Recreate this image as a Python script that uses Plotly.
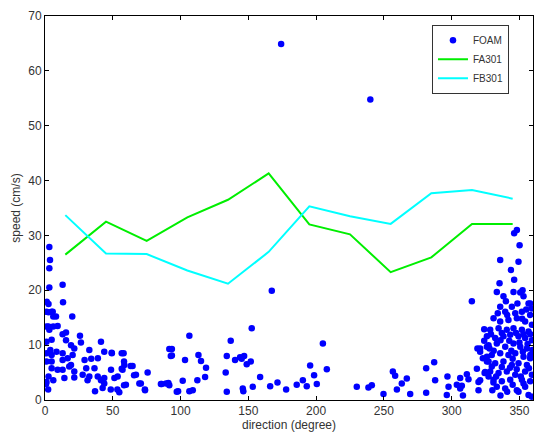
import plotly.graph_objects as go

# FA301 / FB301 line series (direction bins in degrees)
line_dir = [15, 45, 75, 105, 135, 165, 195, 225, 255, 285, 315, 345]
fa301 = [26.5, 32.5, 29.0, 33.3, 36.5, 41.3, 32.0, 30.2, 23.3, 26.0, 32.1, 32.1]
fb301 = [33.7, 26.7, 26.6, 23.6, 21.2, 27.0, 35.3, 33.5, 32.1, 37.7, 38.3, 36.7]

# FOAM scatter points: (direction, speed)
foam_pts = [
    (3.2, 27.9), (3.7, 25.5), (3.2, 24.0), (3.2, 20.5), (13, 21.0), (1.3, 17.9), (2.6, 17.5),
    (13.3, 17.8), (1.1, 16.1), (2.6, 16.0), (4.9, 16.1), (6.1, 15.2), (20.1, 15.2), (1.3, 13.4),
    (2.6, 13.4), (6.1, 13.4), (3.2, 12.8), (9.3, 13.5), (15.5, 12.3), (13.0, 12.0), (25.8, 11.7),
    (26.5, 10.5), (41.3, 10.6), (1.1, 10.6), (4.9, 11.0), (15.5, 10.9), (19.2, 10.0), (21.6, 9.4),
    (3.9, 9.1), (1.1, 8.5), (4.9, 8.2), (8.5, 8.8), (13.0, 8.5), (16.7, 7.6), (20.4, 8.2),
    (13.0, 7.3), (32.7, 9.1), (43.7, 8.8), (49.3, 8.5), (58.0, 8.5), (29.2, 7.3), (34.1, 7.5),
    (39.0, 7.6), (1.1, 7.0), (4.9, 7.0), (19.2, 6.4), (13.0, 5.5), (4.9, 5.8), (9.3, 5.5),
    (30.4, 5.8), (36.5, 5.8), (58.5, 6.4), (64.6, 6.2), (57.2, 5.5), (17.9, 6.1), (21.6, 5.2),
    (27.8, 4.6), (32.7, 4.3), (38.9, 4.3), (43.7, 4.0), (48.7, 5.5), (2.6, 4.3), (6.1, 3.6),
    (14.3, 4.0), (21.6, 4.1), (31.4, 3.6), (41.3, 3.6), (43.7, 3.0), (51.2, 4.0), (53.6, 4.3),
    (67.1, 4.6), (75.7, 5.0), (70.7, 3.0), (1.1, 3.3), (0.8, 2.9), (36.9, 1.6), (42.5, 2.2),
    (48.5, 1.9), (53.4, 1.9), (54.8, 1.4), (59.7, 2.8), (73.7, 1.9), (2.3, 1.9), (85.5, 2.9),
    (89.3, 3.0), (93.6, 9.3), (93.6, 8.1), (98.2, 1.6), (5.7, 16.1), (8.1, 15.2),
    (49.2, 8.6), (56.6, 8.5), (58.3, 7.0), (56.6, 5.7), (63.2, 6.2), (65.7, 4.5), (69.6, 3.0),
    (73.8, 1.8), (58.3, 2.7), (91.0, 3.1), (91.7, 2.7),
    (106.5, 11.7), (137.0, 10.8), (205.0, 10.3), (152.5, 13.1), (167.3, 19.9), (91.7, 9.3),
    (92.8, 8.0), (103.3, 7.3), (113.2, 8.2), (115.1, 7.1), (118.8, 5.9), (118.1, 4.2),
    (134.1, 8.0), (145.1, 7.5), (146.9, 8.0), (143.9, 7.8), (148.8, 6.5), (151.8, 7.0),
    (133.3, 5.0), (158.7, 4.2), (153.3, 2.4), (134.1, 1.5), (145.9, 2.1), (146.3, 1.6),
    (171.5, 3.2), (177.9, 1.9), (166.1, 2.5), (185.7, 2.8), (190.2, 3.6), (193.1, 2.5),
    (195.6, 6.3), (198.5, 4.5), (200.5, 2.9), (207.9, 5.6), (230.0, 2.4), (86.1, 2.9),
    (97.2, 1.5), (101.6, 3.5), (106.5, 1.6), (109.0, 1.8), (112.4, 3.6), (140.2, 7.3),
    (174.2, 64.9), (240.0, 54.8),
    (238.6, 2.3), (241.1, 2.7), (249.7, 1.1), (256.6, 5.2), (258.3, 4.4), (266.9, 3.9),
    (263.2, 3.0), (259.6, 1.9), (281.2, 5.8), (287.1, 6.9), (287.8, 3.6), (269.4, 1.1),
    (281.2, 1.3), (296.9, 4.3), (297.7, 2.4), (296.4, 0.9), (306.3, 4.0), (307.5, 2.6),
    (303.8, 2.8), (311.2, 4.7), (312.4, 3.8), (308.3, 0.8), (306.3, 2.1), (314.9, 18.0),
    (324.0, 12.9),
    (318.6, 5.7), (319.8, 3.3), (319.8, 1.8), (319.0, 9.4), (324.7, 5.1), (327.2, 4.3),
    (329.6, 6.1), (330.8, 3.2), (332.8, 4.3), (327.9, 9.4), (321.0, 9.4), (321.0, 8.8),
    (326.0, 9.7), (326.0, 7.9), (327.2, 7.0), (324.3, 4.9), (321.0, 3.6),
    (346.1, 30.4), (348.1, 31.0), (350.1, 28.2), (335.8, 25.5), (349.3, 25.2), (343.7, 23.7),
    (346.1, 21.9), (335.3, 21.3), (333.3, 19.7), (338.2, 18.9), (345.6, 19.7), (350.6, 19.6),
    (353.0, 18.9), (357.9, 17.6), (352.3, 20.0),
    (335.8, 17.0), (344.4, 17.0), (356.7, 17.6), (359.2, 16.7), (357.9, 15.5), (351.8, 16.1),
    (346.9, 15.8), (339.5, 16.1), (330.9, 14.9), (335.8, 14.3), (341.9, 14.6), (348.1, 14.9),
    (354.2, 14.3), (359.2, 13.7), (328.4, 12.8), (334.6, 13.1), (340.7, 12.8), (345.6, 13.1),
    (351.8, 12.8), (356.7, 12.5), (326.0, 11.6), (332.1, 11.3), (338.2, 11.6), (343.2, 11.9),
    (349.3, 11.6), (354.2, 11.3), (359.2, 10.9), (327.2, 10.0), (333.3, 10.3), (339.5, 9.7),
    (345.6, 10.3), (350.6, 9.7), (355.5, 9.4), (359.5, 9.1), (329.6, 8.2), (335.8, 8.5),
    (341.9, 8.2), (346.9, 8.5), (353.0, 7.9), (357.9, 7.6), (326.0, 7.0), (332.1, 6.7),
    (338.2, 7.0), (344.4, 6.4), (349.3, 6.7), (355.5, 6.4), (328.4, 5.2), (334.6, 4.9),
    (340.7, 5.2), (346.9, 4.6), (354.2, 5.2), (359.2, 4.6), (330.9, 3.7), (337.0, 3.4),
    (343.2, 3.7), (351.8, 3.7), (357.9, 3.4), (333.3, 2.4), (339.5, 2.1), (348.1, 1.8),
    (354.2, 2.4), (356.7, 0.9), (349.3, 1.5), (359.2, 0.6),
    (342.5, 10.8), (344.0, 9.0), (347.5, 12.2), (350.0, 10.5), (352.5, 8.8), (356.0, 10.2),
    (358.0, 12.0), (337.0, 12.2), (336.0, 10.9), (341.0, 15.5), (348.5, 17.6), (352.0, 14.8),
    (355.0, 16.5), (345.0, 7.5), (343.0, 5.9), (348.0, 5.6), (351.0, 4.3), (337.0, 6.0),
    (331.0, 9.0), (324.0, 10.8), (323.0, 7.6), (329.0, 12.0), (334.0, 15.8), (340.0, 18.0),
    (353.0, 12.0), (358.0, 8.2), (357.0, 5.8), (353.0, 3.0), (345.0, 2.8), (341.0, 1.5),
    (336.0, 0.8), (330.0, 1.8),
]
foam_dir = [p[0] for p in foam_pts]
foam_speed = [p[1] for p in foam_pts]

x_ticks = [0, 50, 100, 150, 200, 250, 300, 350]
y_ticks = [0, 10, 20, 30, 40, 50, 60, 70]

font_family = "Liberation Sans, Arial, sans-serif"

fig = go.Figure()
fig.add_trace(go.Scatter(x=foam_dir, y=foam_speed, mode="markers", name="FOAM",
                         marker=dict(color="#0000ff", size=6.5, line=dict(width=0))))
fig.add_trace(go.Scatter(x=line_dir, y=fa301, mode="lines", name="FA301",
                         line=dict(color="#00ee00", width=2)))
fig.add_trace(go.Scatter(x=line_dir, y=fb301, mode="lines", name="FB301",
                         line=dict(color="#00ffff", width=2)))

axis_common = dict(showline=True, linecolor="black", linewidth=1, mirror="ticks",
                   ticks="inside", ticklen=4, tickcolor="black", showgrid=False,
                   zeroline=False, tickfont=dict(size=12, color="#333333", family=font_family))

fig.update_layout(
    width=539, height=436,
    margin=dict(l=45, r=6, t=16, b=36),
    paper_bgcolor="white", plot_bgcolor="white",
    font=dict(family=font_family, color="#333333"),
    xaxis=dict(range=[0, 360], tickvals=x_ticks, ticktext=[str(v) for v in x_ticks],
               title=dict(text="direction (degree)", font=dict(size=12), standoff=3), **axis_common),
    yaxis=dict(range=[0, 70], tickvals=y_ticks, ticktext=[str(v) for v in y_ticks],
               title=dict(text="speed (cm/s)", font=dict(size=12), standoff=5), **axis_common),
    legend=dict(x=0.793, y=0.977, xanchor="left", yanchor="top",
                bgcolor="white", bordercolor="#333333", borderwidth=1,
                font=dict(size=10, color="#333333"), itemwidth=30, tracegroupgap=0),
    showlegend=True,
)

fig.write_html("out.html")
